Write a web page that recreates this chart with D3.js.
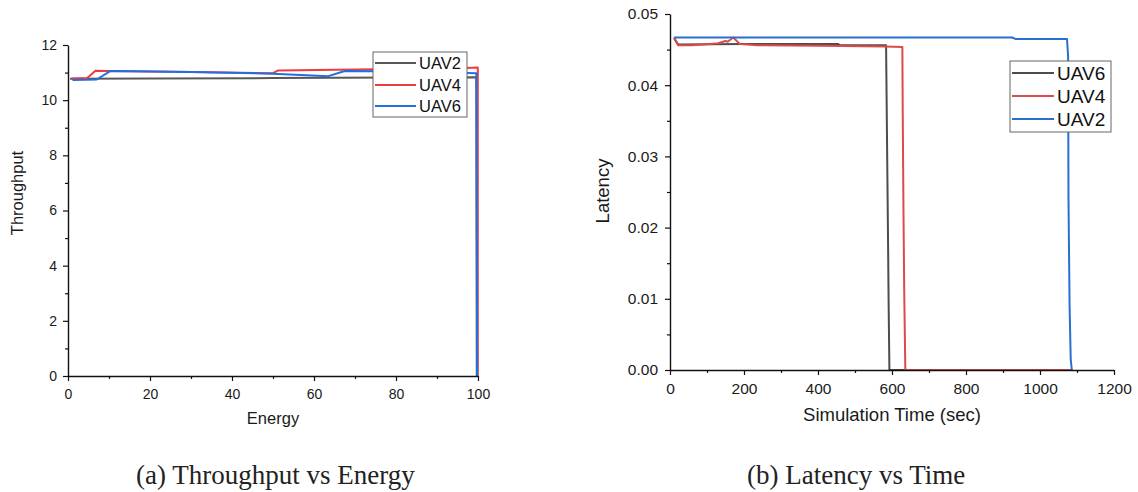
<!DOCTYPE html>
<html>
<head>
<meta charset="utf-8">
<script src="https://cdn.jsdelivr.net/npm/d3@7/dist/d3.min.js"></script>
<style>
    body { margin: 0; background: #fff; }
    text { font-family: "Liberation Sans", Arial, sans-serif; }
    .caption { font-family: "Liberation Serif", "DejaVu Serif", serif; }
</style>
</head>
<body>
<div id="chart-container"></div>
<script>
// ---- (a) Throughput vs Energy ----
var energyTicks = [0, 20, 40, 60, 80, 100];
var energyMinor = [10, 30, 50, 70, 90];
var throughputTicks = [0, 2, 4, 6, 8, 10, 12];
var throughputMinor = [1, 3, 5, 7, 9, 11];

var a_uav2_energy = [0.5, 20, 50, 80, 99.6, 99.7];
var a_uav2_thr    = [10.78, 10.79, 10.80, 10.82, 10.83, 0];
var a_uav4_energy = [0.9, 4.7, 6.7, 10, 30, 50, 51.3, 75, 97, 99.95, 99.95];
var a_uav4_thr    = [10.79, 10.80, 11.07, 11.06, 11.02, 10.98, 11.08, 11.12, 11.17, 11.18, 0];
var a_uav6_energy = [1.1, 7.0, 10.4, 30, 50, 63.5, 67.5, 80, 99.6, 99.8];
var a_uav6_thr    = [10.73, 10.75, 11.06, 11.02, 10.96, 10.87, 11.06, 11.05, 10.98, 0];

// ---- (b) Latency vs Time ----
var timeTicks = [0, 200, 400, 600, 800, 1000, 1200];
var timeMinor = [100, 300, 500, 700, 900, 1100];
var latencyTicks = [0, 0.01, 0.02, 0.03, 0.04, 0.05];
var latencyMinor = [0.005, 0.015, 0.025, 0.035, 0.045];

var b_uav6_time = [11, 22, 200, 400, 454, 458, 584, 585, 587, 589, 591, 593, 1085];
var b_uav6_lat  = [0.0466, 0.0457, 0.0458, 0.0458, 0.0458, 0.04565, 0.0456, 0.0405, 0.0300, 0.0197, 0.0089, 0, 0];
var b_uav4_time = [11, 22, 60, 100, 130, 150, 156, 171, 189, 235, 400, 581, 628, 629, 631, 633, 636, 1085];
var b_uav4_lat  = [0.0467, 0.0456, 0.0456, 0.04575, 0.0459, 0.0462, 0.0461, 0.0467, 0.04577, 0.0456, 0.04555, 0.04545, 0.04535, 0.0362, 0.0223, 0.0113, 0, 0];
var b_uav2_time = [11, 925, 935, 1073, 1076, 1077, 1080, 1083, 1086];
var b_uav2_lat  = [0.0467, 0.0467, 0.04648, 0.04648, 0.0440, 0.0240, 0.0089, 0.0015, 0];

var svg = d3.select("#chart-container")
    .append("svg")
    .attr("width", 1138)
    .attr("height", 492);

function zip(xs, ys) {
    return xs.map(function (v, i) { return [v, ys[i]]; });
}

// draws one panel: axes, lines, legend, titles
function drawPanel(p) {
    var x = d3.scaleLinear().domain(p.xDomain).range(p.xRange);
    var y = d3.scaleLinear().domain(p.yDomain).range(p.yRange);
    var g = svg.append("g");

    // series lines
    var line = d3.line()
        .x(function (d) { return x(d[0]); })
        .y(function (d) { return y(d[1]); });

    p.series.forEach(function (s) {
        g.append("path")
            .datum(s.data)
            .attr("fill", "none")
            .attr("stroke", s.color)
            .attr("stroke-width", 2)
            .attr("stroke-linejoin", "round")
            .attr("d", line);
    });

    // x axis (major + minor)
    var xAxis = g.append("g")
        .attr("transform", "translate(0," + p.yRange[0] + ")")
        .call(d3.axisBottom(x).tickValues(p.xTicks).tickSize(5).tickSizeOuter(0)
            .tickPadding(p.xPad).tickFormat(d3.format("d")));
    g.append("g")
        .attr("transform", "translate(0," + p.yRange[0] + ")")
        .call(d3.axisBottom(x).tickValues(p.xMinor).tickSize(3).tickFormat(""))
        .select(".domain").remove();

    // y axis (major + minor)
    var yAxis = g.append("g")
        .attr("transform", "translate(" + p.xRange[0] + ",0)")
        .call(d3.axisLeft(y).tickValues(p.yTicks).tickSize(5).tickSizeOuter(0)
            .tickPadding(p.yPad).tickFormat(p.yFormat));
    g.append("g")
        .attr("transform", "translate(" + p.xRange[0] + ",0)")
        .call(d3.axisLeft(y).tickValues(p.yMinor).tickSize(3).tickFormat(""))
        .select(".domain").remove();

    g.selectAll(".domain").attr("stroke", "#111").attr("stroke-width", 1.4);
    g.selectAll(".tick line").attr("stroke", "#111").attr("stroke-width", 1.2);
    xAxis.selectAll("text").attr("font-size", p.tickFont).attr("fill", "#1a1a1a")
        .attr("font-family", "Liberation Sans, Arial, sans-serif");
    yAxis.selectAll("text").attr("font-size", p.tickFont).attr("fill", "#1a1a1a")
        .attr("font-family", "Liberation Sans, Arial, sans-serif");

    // axis titles
    g.append("text")
        .attr("x", (p.xRange[0] + p.xRange[1]) / 2)
        .attr("y", p.xTitleY)
        .attr("text-anchor", "middle")
        .attr("font-size", p.titleFont)
        .attr("fill", "#1a1a1a")
        .text(p.xTitle);
    g.append("text")
        .attr("transform", "translate(" + p.yTitleX + "," + p.yTitleY + ") rotate(-90)")
        .attr("text-anchor", "middle")
        .attr("dy", "0.35em")
        .attr("font-size", p.titleFont)
        .attr("fill", "#1a1a1a")
        .text(p.yTitle);

    // legend
    var L = p.legend;
    g.append("rect")
        .attr("x", L.x).attr("y", L.y)
        .attr("width", L.w).attr("height", L.h)
        .attr("fill", "#fff")
        .attr("stroke", "#666")
        .attr("stroke-width", 1);
    p.series.forEach(function (s, i) {
        var ly = L.rowY[i];
        g.append("line")
            .attr("x1", L.x + 2).attr("x2", L.x + L.lineLen)
            .attr("y1", ly).attr("y2", ly)
            .attr("stroke", s.color)
            .attr("stroke-width", 2.2);
        g.append("text")
            .attr("x", L.x + L.lineLen + 3)
            .attr("y", ly)
            .attr("dy", "0.36em")
            .attr("font-size", L.font)
            .attr("fill", "#111")
            .text(s.name);
    });

    // caption below the panel
    svg.append("text")
        .attr("class", "caption")
        .attr("x", p.captionX)
        .attr("y", 484)
        .attr("font-size", 27)
        .attr("fill", "#222")
        .text(p.caption);
}

drawPanel({
    xDomain: [0, 100], xRange: [68, 478],
    yDomain: [0, 12], yRange: [376, 45],
    xTicks: energyTicks, xMinor: energyMinor,
    yTicks: throughputTicks, yMinor: throughputMinor,
    yFormat: d3.format("d"),
    xPad: 8, yPad: 6, tickFont: 14, titleFont: 16.5,
    xTitle: "Energy", xTitleY: 424,
    yTitle: "Throughput", yTitleX: 17, yTitleY: 193,
    series: [
        { name: "UAV2", color: "#585858", data: zip(a_uav2_energy, a_uav2_thr) },
        { name: "UAV4", color: "#f03b3d", data: zip(a_uav4_energy, a_uav4_thr) },
        { name: "UAV6", color: "#1f6fe3", data: zip(a_uav6_energy, a_uav6_thr) }
    ],
    legend: { x: 373, y: 52, w: 94, h: 65, lineLen: 43, font: 16.5, rowY: [63, 85, 106] },
    caption: "(a) Throughput vs Energy", captionX: 136
});

drawPanel({
    xDomain: [0, 1200], xRange: [670, 1114],
    yDomain: [0, 0.05], yRange: [370, 14],
    xTicks: timeTicks, xMinor: timeMinor,
    yTicks: latencyTicks, yMinor: latencyMinor,
    yFormat: d3.format(".2f"),
    xPad: 8, yPad: 7, tickFont: 15.5, titleFont: 18.5,
    xTitle: "Simulation Time (sec)", xTitleY: 421,
    yTitle: "Latency", yTitleX: 603, yTitleY: 191,
    series: [
        { name: "UAV6", color: "#4d4d4d", data: zip(b_uav6_time, b_uav6_lat) },
        { name: "UAV4", color: "#dc4a4c", data: zip(b_uav4_time, b_uav4_lat) },
        { name: "UAV2", color: "#2a6fd0", data: zip(b_uav2_time, b_uav2_lat) }
    ],
    legend: { x: 1010, y: 61, w: 101, h: 71, lineLen: 44, font: 19, rowY: [73, 96, 119] },
    caption: "(b) Latency vs Time", captionX: 747
});
</script>
</body>
</html>
